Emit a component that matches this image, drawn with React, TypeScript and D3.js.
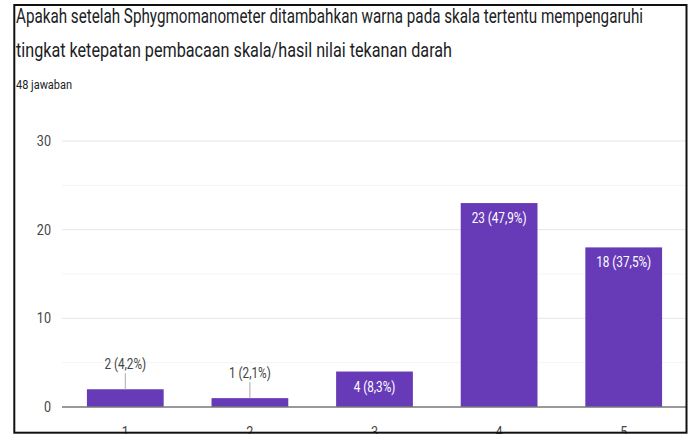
import React from "react";
import * as d3 from "d3";

const titleLines = [
  "Apakah setelah Sphygmomanometer ditambahkan warna pada skala tertentu mempengaruhi",
  "tingkat ketepatan pembacaan skala/hasil nilai tekanan darah",
];
const subtitle = "48 jawaban";
const categories = ["1", "2", "3", "4", "5"];
const counts = [2, 1, 4, 23, 18];
const percents = ["4,2%", "2,1%", "8,3%", "47,9%", "37,5%"];
const majorTicks = [0, 10, 20, 30];
const minorTicks = [5, 15, 25];

const W = 694;
const H = 434;
const SX = 0.84;

function CText(props: { x: number; y: number; size: number; fill: string; anchor?: string; children: React.ReactNode }) {
  const { x, y, size, fill, anchor = "middle", children } = props;
  return (
    <text
      transform={`translate(${x},${y}) scale(${SX},1)`}
      fontSize={size}
      fill={fill}
      textAnchor={anchor}
      fontFamily="Roboto, Arial, sans-serif"
    >
      {children}
    </text>
  );
}

export default function App() {
  const x = d3
    .scaleBand<string>()
    .domain(categories)
    .range([62, 687])
    .paddingInner(0.384)
    .paddingOuter(0.2);
  const y = d3.scaleLinear().domain([0, 30]).range([407, 141]);
  const bw = x.bandwidth();

  return (
    <svg
      width={W}
      height={H}
      style={{ position: "absolute", left: 0, top: 0, background: "#fff" }}
    >
      <rect x={0} y={0} width={W} height={H} fill="#fff" />
      {/* title */}
      <text x={16} y={23} fontSize={19.5} fill="#202124" fontFamily="Roboto, Arial, sans-serif" textLength={627} lengthAdjust="spacingAndGlyphs">
        {titleLines[0]}
      </text>
      <text x={16} y={57} fontSize={19.5} fill="#202124" fontFamily="Roboto, Arial, sans-serif" textLength={436} lengthAdjust="spacingAndGlyphs">
        {titleLines[1]}
      </text>
      <text x={16} y={89} fontSize={12.5} fill="#202124" fontFamily="Roboto, Arial, sans-serif" textLength={56} lengthAdjust="spacingAndGlyphs">
        {subtitle}
      </text>

      {/* gridlines */}
      {minorTicks.map((t) => (
        <line key={"m" + t} x1={62} x2={687} y1={y(t)} y2={y(t)} stroke="#f4f4f4" strokeWidth={1} />
      ))}
      {majorTicks.filter((t) => t !== 0).map((t) => (
        <line key={"g" + t} x1={62} x2={687} y1={y(t)} y2={y(t)} stroke="#e6e6e6" strokeWidth={1} />
      ))}
      {majorTicks.map((t) => (
        <CText key={"t" + t} x={51} y={y(t) + 5} size={15} fill="#444" anchor="end">
          {t}
        </CText>
      ))}

      {/* bars */}
      {categories.map((c, i) => {
        const v = counts[i];
        const bx = x(c)!;
        const top = y(v);
        const cx = bx + bw / 2;
        const label = `${v} (${percents[i]})`;
        const inside = y(0) - top > 30;
        return (
          <g key={c}>
            <rect x={bx} y={top} width={bw} height={y(0) - top} fill="#673ab7" />
            {inside ? (
              <CText x={cx} y={top + 20} size={14} fill="#fff">
                {label}
              </CText>
            ) : (
              <g>
                <line x1={cx} x2={cx} y1={top - 16} y2={top} stroke="#aaa" strokeWidth={1} />
                <CText x={cx} y={top - 20.5} size={14} fill="#444">
                  {label}
                </CText>
              </g>
            )}
            <CText x={cx} y={437} size={15} fill="#444">
              {c}
            </CText>
          </g>
        );
      })}

      {/* baseline */}
      <line x1={62} x2={687} y1={y(0)} y2={y(0)} stroke="#777" strokeWidth={1.5} />

      {/* border */}
      <rect x={14.3} y={5} width={672.2} height={427.7} fill="none" stroke="#111" strokeWidth={2} />
    </svg>
  );
}
